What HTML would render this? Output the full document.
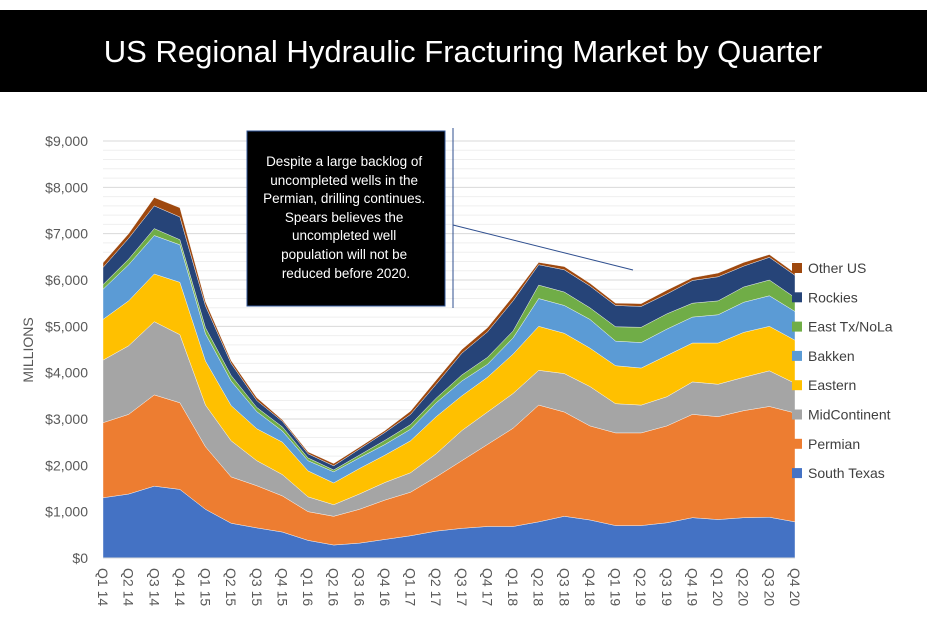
<!DOCTYPE html>
<html><head><meta charset="utf-8"><style>
body{margin:0;background:#fff;}
svg{display:block;font-family:"Liberation Sans",Calibri,sans-serif;}
</style></head><body>
<svg id="chart" width="927" height="624" viewBox="0 0 927 624" xmlns="http://www.w3.org/2000/svg">
<rect x="0" y="10" width="927" height="82" fill="#000"/>
<text x="463" y="62" text-anchor="middle" fill="#fff" font-size="31">US Regional Hydraulic Fracturing Market by Quarter</text>
<g id="grid"></g>
<g id="areas"></g>
<g id="yaxis"></g>
<g id="xaxis"></g>
<text transform="translate(33,350) rotate(-90)" text-anchor="middle" font-size="14" fill="#595959">MILLIONS</text>
<g id="legend"></g>
<line x1="453" y1="128" x2="453" y2="308" stroke="#2f4f8f" stroke-width="1"/>
<line x1="453" y1="225" x2="633" y2="270" stroke="#2f4f8f" stroke-width="1"/>
<rect x="247" y="131" width="198" height="175" fill="#000" stroke="#2f5597" stroke-width="1"/>
<text text-anchor="middle" fill="#fff" font-size="13.5">
<tspan x="346" y="166">Despite a large backlog of</tspan>
<tspan x="346" y="185">uncompleted wells in the</tspan>
<tspan x="346" y="203">Permian, drilling continues.</tspan>
<tspan x="346" y="222">Spears believes the</tspan>
<tspan x="346" y="240">uncompleted well</tspan>
<tspan x="346" y="259">population will not be</tspan>
<tspan x="346" y="278">reduced before 2020.</tspan>
</text>
</svg>
<script>
const categories=["Q1 14","Q2 14","Q3 14","Q4 14","Q1 15","Q2 15","Q3 15","Q4 15","Q1 16","Q2 16","Q3 16","Q4 16","Q1 17","Q2 17","Q3 17","Q4 17","Q1 18","Q2 18","Q3 18","Q4 18","Q1 19","Q2 19","Q3 19","Q4 19","Q1 20","Q2 20","Q3 20","Q4 20"];
const seriesNames=["South Texas","Permian","MidContinent","Eastern","Bakken","East Tx/NoLa","Rockies","Other US"];
const seriesColors=["#4472c4","#ed7d31","#a5a5a5","#ffc000","#5b9bd5","#70ad47","#264478","#9e480e"];
const southTexas=[1300,1380,1550,1480,1050,750,650,560,380,280,320,400,480,580,640,680,680,780,900,820,700,700,760,870,830,870,880,780];
const permian=[1620,1720,1970,1870,1350,1000,910,780,620,620,730,850,940,1170,1460,1770,2120,2520,2250,2030,2000,2000,2090,2230,2220,2310,2390,2350];
const midContinent=[1350,1480,1580,1470,900,780,540,460,320,250,330,380,420,500,650,700,750,750,830,850,630,600,630,700,700,720,770,640];
const eastern=[880,970,1030,1130,950,760,690,700,560,470,550,590,690,800,750,750,850,950,870,830,820,800,890,840,890,970,960,930];
const bakken=[650,780,830,810,590,530,370,240,220,240,230,230,250,300,320,280,350,600,600,620,530,550,570,560,610,650,660,620];
const eastTx=[100,120,150,110,130,120,90,90,60,40,60,90,100,100,130,150,150,290,290,250,310,330,330,300,300,330,340,300];
const rockies=[370,450,490,490,470,260,150,120,90,90,130,170,220,300,470,550,650,440,480,470,460,450,430,490,520,450,490,480];
const otherUS=[100,100,180,200,90,60,60,30,40,50,40,40,70,90,80,90,100,50,70,60,50,60,80,60,80,80,60,50];
const yTicks=[0,1000,2000,3000,4000,5000,6000,7000,8000,9000];
const yTickLabels=["$0","$1,000","$2,000","$3,000","$4,000","$5,000","$6,000","$7,000","$8,000","$9,000"];
const series=[southTexas,permian,midContinent,eastern,bakken,eastTx,rockies,otherUS];

const NS="http://www.w3.org/2000/svg";
const X0=103,X1=795,Y0=558,Y1=141,YMAX=9000;
const x=i=>X0+i*(X1-X0)/(categories.length-1);
const y=v=>Y0-v/YMAX*(Y0-Y1);
function mk(tag,parent){const e=document.createElementNS(NS,tag);document.getElementById(parent).appendChild(e);return e;}

for(let v=200;v<=YMAX;v+=200){
  const l=mk('line','grid');
  
  
  l.setAttribute('x1',X0);l.setAttribute('x2',X1);
  l.setAttribute('y1',y(v));l.setAttribute('y2',y(v));
  l.setAttribute('stroke',v%1000===0?'#d9d9d9':'#efefef');l.setAttribute('stroke-width','1');
}
yTicks.forEach((v,i)=>{
  const t=mk('text','yaxis');
  
  
  t.setAttribute('x',88);t.setAttribute('y',y(v)+5);
  t.setAttribute('text-anchor','end');t.setAttribute('font-size','14');t.setAttribute('fill','#595959');
  t.textContent=yTickLabels[i];
});
let base=categories.map(()=>0);
series.forEach((s,k)=>{
  const top=base.map((b,i)=>b+s[i]);
  let d='M'+categories.map((c,i)=>x(i)+','+y(top[i])).join(' L');
  for(let i=categories.length-1;i>=0;i--) d+=' L'+x(i)+','+y(base[i]);
  d+=' Z';
  const p=mk('path','areas');
  
  
  p.setAttribute('d',d);p.setAttribute('fill',seriesColors[k]);
  p.setAttribute('stroke','#fff');p.setAttribute('stroke-width','0.4');
  base=top;
});
const ax=mk('line','xaxis');


ax.setAttribute('x1',X0);ax.setAttribute('x2',X1);ax.setAttribute('y1',Y0);ax.setAttribute('y2',Y0);
ax.setAttribute('stroke','#d9d9d9');
categories.forEach((c,i)=>{
  const t=mk('text','xaxis');
  
  
  t.setAttribute('transform','translate('+(x(i)-5)+',568) rotate(90)');
  t.setAttribute('font-size','14');t.setAttribute('fill','#595959');
  t.textContent=c;
});
for(let k=seriesNames.length-1;k>=0;k--){
  const row=seriesNames.length-1-k;
  const yy=268+row*29.3;
  const r=mk('rect','legend');
  
  
  r.setAttribute('x',792);r.setAttribute('y',yy-5);r.setAttribute('width',10);r.setAttribute('height',10);
  r.setAttribute('fill',seriesColors[k]);
  const t=mk('text','legend');
  
  
  t.setAttribute('x',808);t.setAttribute('y',yy+5);t.setAttribute('font-size','14');t.setAttribute('fill','#404040');
  t.textContent=seriesNames[k];
}
</script>
</body></html>
